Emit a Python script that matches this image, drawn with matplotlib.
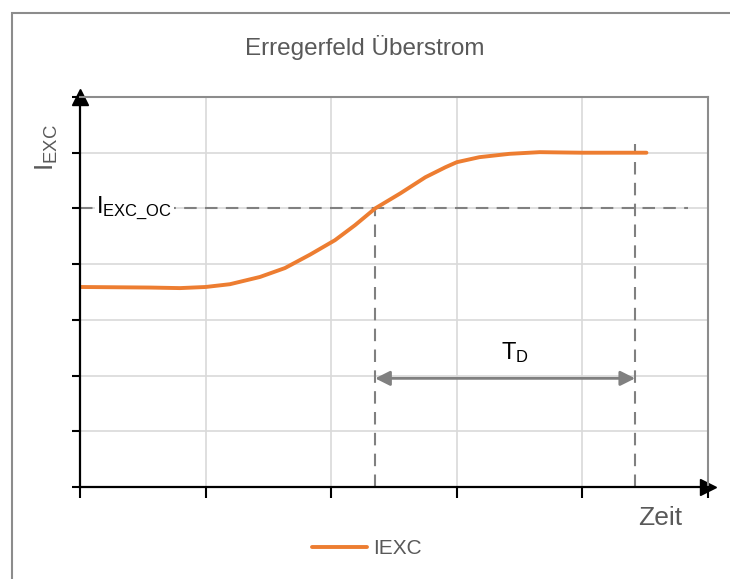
import numpy as np
import matplotlib
matplotlib.use("Agg")
import matplotlib.pyplot as plt
from matplotlib.patches import Rectangle

plt.rcParams['font.family'] = ['Liberation Sans', 'DejaVu Sans']
plt.rcParams['mathtext.fontset'] = 'custom'
plt.rcParams['mathtext.rm'] = 'Liberation Sans'

# === Data ===
zeit = [0.0, 0.557, 0.796, 1.0, 1.194, 1.433, 1.632, 1.831, 2.03, 2.19, 2.35,
        2.55, 2.75, 2.91, 3.0, 3.18, 3.42, 3.66, 3.82, 4.0, 4.51]
iexc = [3.59, 3.58, 3.57, 3.59, 3.64, 3.77, 3.93, 4.17, 4.43, 4.70, 5.0,
        5.27, 5.56, 5.74, 5.83, 5.92, 5.98, 6.01, 6.005, 6.0, 6.0]

i_exc_oc = 5.0
t_start = 2.35
t_end = 4.42
td_level = 1.95

grey_text = '#595959'
grey_line = '#808080'
orange = '#ED7D31'

fig = plt.figure(figsize=(7.3, 5.79), dpi=100)
fig.add_artist(Rectangle((12 / 730, -0.1), 1.2, 1.1 - 13 / 579, transform=fig.transFigure,
                         fill=False, edgecolor='#8c8c8c', lw=1.5, clip_on=False))

ax = fig.add_axes([80 / 730, 92 / 579, 628 / 730, 390 / 579])
ax.set_xlim(0, 5)
ax.set_ylim(0, 7)

# grid
ax.set_xticks(np.arange(0, 6))
ax.set_yticks(np.arange(0, 8))
ax.grid(True, color='#d9d9d9', lw=1.2)
ax.set_axisbelow(True)
ax.tick_params(axis='both', labelleft=False, labelbottom=False, color='black', width=1.5)
ax.tick_params(axis='y', length=6)
ax.tick_params(axis='x', length=8)

for s in ['left', 'bottom']:
    ax.spines[s].set_color('black')
    ax.spines[s].set_linewidth(1.6)
for s in ['top', 'right']:
    ax.spines[s].set_color('#8c8c8c')
    ax.spines[s].set_linewidth(1.5)

# axis arrows
ax.plot(0, 1, '^', color='black', ms=11, transform=ax.transAxes, clip_on=False)
ax.plot(1, 0, '>', color='black', ms=11, transform=ax.transAxes, clip_on=False)

# dashed reference lines
dash = dict(color=grey_line, lw=1.5, ls=(0, (6, 4)))
ax.plot([0, 4.84], [i_exc_oc, i_exc_oc], **dash)
ax.plot([t_start, t_start], [0, i_exc_oc], **dash)
ax.plot([t_end, t_end], [0, 6.15], **dash)

# current curve
ax.plot(zeit, iexc, color=orange, lw=2.8, solid_capstyle='round',
        solid_joinstyle='round', label='IEXC')

# T_D double arrow
ax.annotate('', xy=(t_end, td_level), xytext=(t_start, td_level),
            arrowprops=dict(arrowstyle='<|-|>', color=grey_line, lw=2, mutation_scale=22,
                            shrinkA=0, shrinkB=0))
ax.text((t_start + t_end) / 2 + 0.08, 2.42, r'$\mathrm{T_D}$', fontsize=17,
        color='black', ha='center', va='center')

ax.text(0.13, i_exc_oc, r'$\mathrm{I_{EXC\_OC}}$', fontsize=17, color='black',
        ha='left', va='center',
        bbox=dict(facecolor='white', edgecolor='none', pad=1))

ax.set_ylabel(r'$\mathrm{I_{EXC}}$', fontsize=19, color=grey_text)
ax.yaxis.set_label_coords(-0.032, 0.87)
ax.text(4.62, -0.55, 'Zeit', fontsize=19, color=grey_text, ha='center', va='center')

fig.text(365 / 730, 1 - 48 / 579, 'Erregerfeld Überstrom', fontsize=17.5,
         color=grey_text, ha='center', va='center')

leg = fig.legend(loc='center', bbox_to_anchor=(367 / 730, 1 - 549 / 579), frameon=False,
                 fontsize=15, handlelength=2.6, handletextpad=0.3)
for t in leg.get_texts():
    t.set_color(grey_text)

fig.savefig('out.png', dpi=100)
